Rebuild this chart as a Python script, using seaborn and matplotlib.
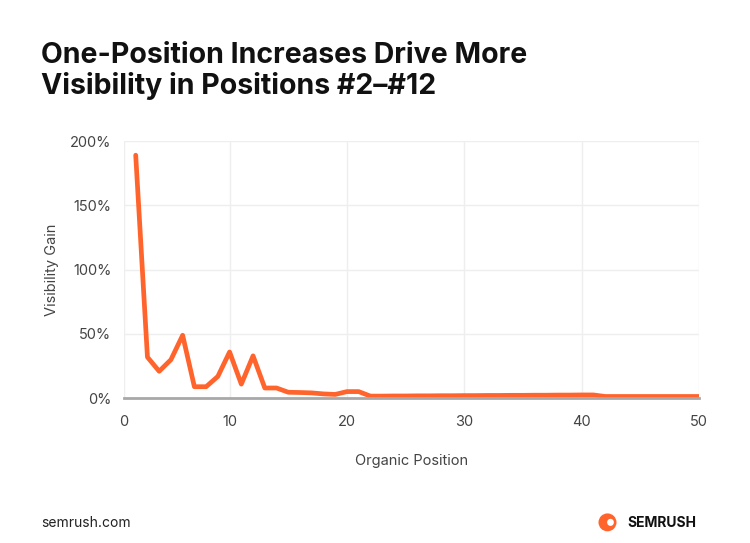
import matplotlib
matplotlib.use("Agg")
import matplotlib.pyplot as plt
import matplotlib.patches as mpatches
import pandas as pd
import seaborn as sns

# organic position vs. visibility gain (%)
positions = list(range(2, 51))
gain = [189, 32, 21, 30, 49, 9, 9, 17, 36, 11, 33, 8, 8, 4.7, 4.5, 4.2, 3.4, 3.0,
        5.2, 5.2, 1.7, 1.7, 1.8, 1.8, 1.9, 1.9, 2.0, 2.0, 2.1, 2.1, 2.2, 2.2, 2.3,
        2.3, 2.4, 2.4, 2.5, 2.5, 2.6, 2.6, 1.4, 1.4, 1.4, 1.4, 1.4, 1.4, 1.4, 1.4, 1.4]
x_ticks = [1, 10, 20, 30, 40, 50]
x_labels = ["0", "10", "20", "30", "40", "50"]
y_ticks = [0, 50, 100, 150, 200]

df = pd.DataFrame({"Position": positions, "Gain": gain})

sns.set_style("white")
plt.rcParams["font.family"] = ["Inter", "DejaVu Sans"]

fig = plt.figure(figsize=(7.5, 5.43), dpi=100)
ax = fig.add_axes([0.1653, 0.2665, 0.7667, 0.4738])

sns.lineplot(data=df, x="Position", y="Gain", color="#ff642d", linewidth=3.4, ax=ax)

ax.set_xlim(1, 50)
ax.set_ylim(0, 200)
ax.set_xticks(x_ticks)
ax.set_xticklabels(x_labels)
ax.set_yticks(y_ticks)
ax.set_yticklabels([f"{v}%" for v in y_ticks])
ax.grid(True, color="#eeeeee", linewidth=1)
ax.set_axisbelow(True)
for s in ["top", "right", "left"]:
    ax.spines[s].set_visible(False)
ax.spines["bottom"].set_color("#a8a8a8")
ax.spines["bottom"].set_linewidth(2)
ax.tick_params(axis="both", length=0, labelsize=10.5, labelcolor="#444444", pad=9)
ax.tick_params(axis="x", pad=12)

ax.set_xlabel("Organic Position", fontsize=10.5, color="#444444", labelpad=18)
ax.set_ylabel("Visibility Gain", fontsize=10.5, color="#444444", labelpad=8)

fig.text(0.055, 0.922, "One-Position Increases Drive More\nVisibility in Positions #2\u2013#12",
         fontsize=20.5, fontweight="bold", color="#111111", va="top", ha="left",
         linespacing=1.1)
fig.text(0.055, 0.037, "semrush.com", fontsize=10, color="#222222", ha="left", va="center")

# semrush logo
fig.text(0.929, 0.037, "SEMRUSH", fontsize=10, fontweight="bold", color="#111111",
         ha="right", va="center")
fig.patches.append(mpatches.Ellipse((0.81, 0.038), 0.024, 0.033, transform=fig.transFigure,
                                    facecolor="#ff642d", edgecolor="none"))
fig.patches.append(mpatches.Ellipse((0.814, 0.038), 0.009, 0.013, transform=fig.transFigure,
                                    facecolor="white", edgecolor="none"))

fig.savefig("out.png", dpi=100)
